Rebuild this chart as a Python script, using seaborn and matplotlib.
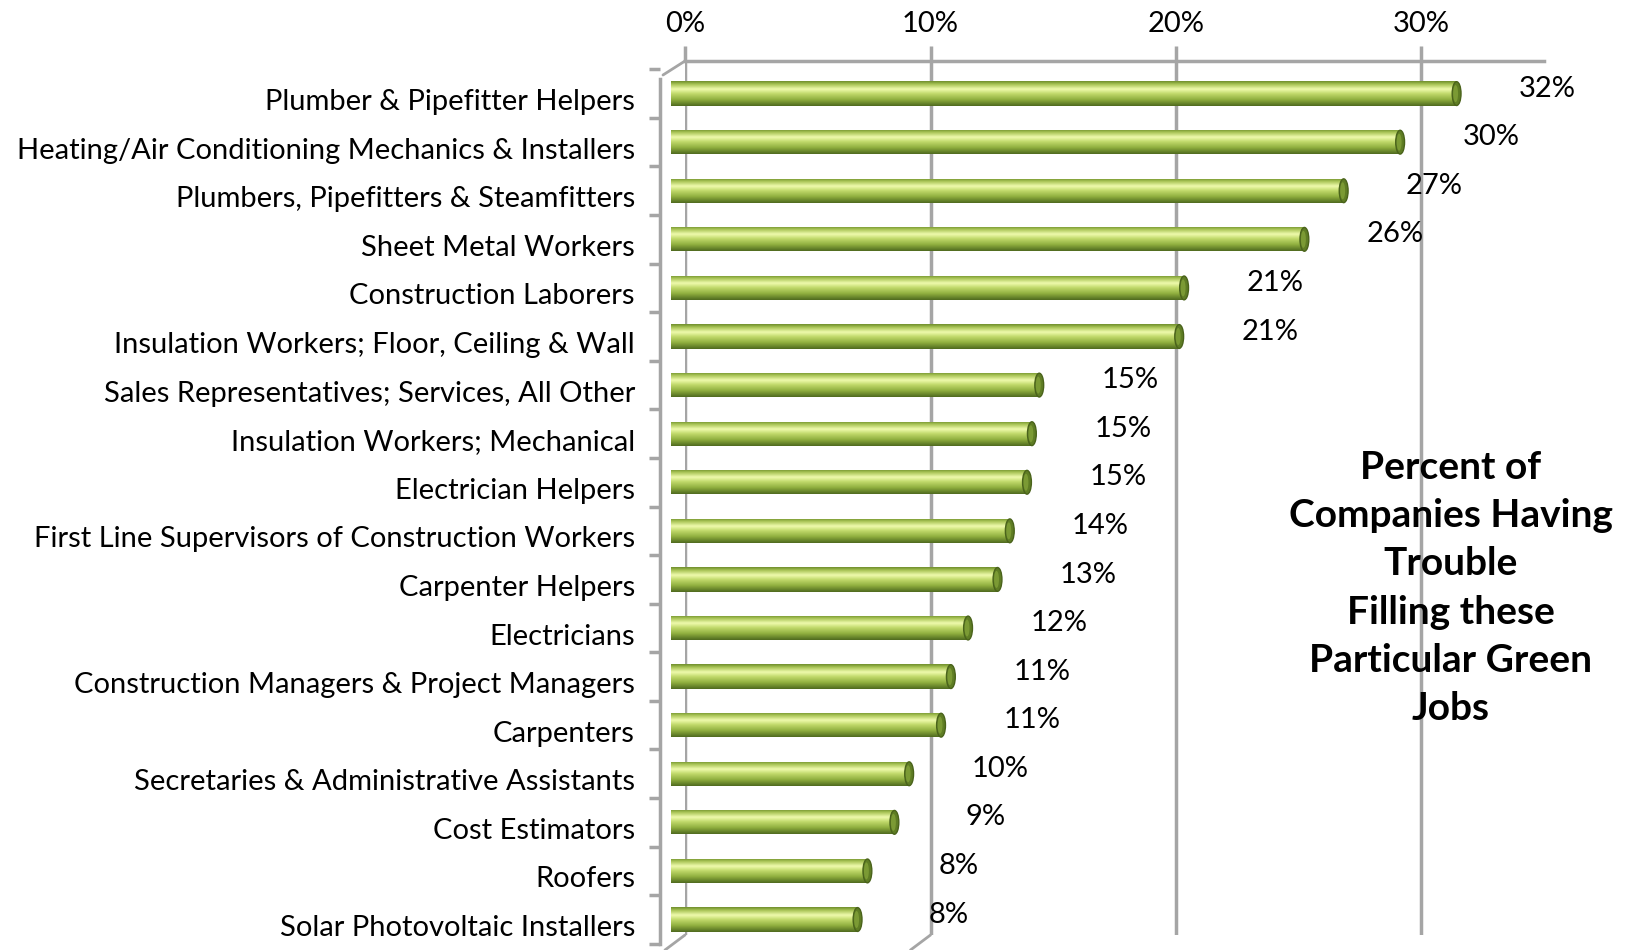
import numpy as np
import pandas as pd
import seaborn as sns
import matplotlib.pyplot as plt
from matplotlib.colors import LinearSegmentedColormap
from matplotlib.patches import Ellipse
from matplotlib.lines import Line2D
from matplotlib.ticker import FuncFormatter, FixedLocator
from matplotlib.transforms import ScaledTranslation

sns.set_theme(style="white")
plt.rcParams['font.family'] = ['Lato', 'DejaVu Sans']
plt.rcParams['text.color'] = 'black'
plt.rcParams['xtick.labelcolor'] = 'black'
plt.rcParams['ytick.labelcolor'] = 'black'

jobs = [
    "Plumber & Pipefitter Helpers",
    "Heating/Air Conditioning Mechanics & Installers",
    "Plumbers, Pipefitters & Steamfitters",
    "Sheet Metal Workers",
    "Construction Laborers",
    "Insulation Workers; Floor, Ceiling & Wall",
    "Sales Representatives; Services, All Other",
    "Insulation Workers; Mechanical",
    "Electrician Helpers",
    "First Line Supervisors of Construction Workers",
    "Carpenter Helpers",
    "Electricians",
    "Construction Managers & Project Managers",
    "Carpenters",
    "Secretaries & Administrative Assistants",
    "Cost Estimators",
    "Roofers",
    "Solar Photovoltaic Installers",
]
pct = [32.0, 29.7, 27.4, 25.8, 20.9, 20.7, 15.0, 14.7, 14.5, 13.8,
       13.3, 12.1, 11.4, 11.0, 9.7, 9.1, 8.0, 7.6]
pct_labels = ["32%", "30%", "27%", "26%", "21%", "21%", "15%", "15%", "15%",
              "14%", "13%", "12%", "11%", "11%", "10%", "9%", "8%", "8%"]
x_ticks = [0, 10, 20, 30]

df = pd.DataFrame({"job": jobs, "pct": pct})

W, H = 1631, 950
fig = plt.figure(figsize=(W / 100, H / 100), dpi=100)

grey = "#a5a5a5"
px_per_pct = 24.55
xmax = 35

# back wall: gridlines + top axis (shifted right/up for the 3d look)
back = fig.add_axes([685 / W, 1 - 935 / H, xmax * px_per_pct / W, (935 - 61) / H])
back.set_xlim(0, xmax)
back.set_ylim(0, 1)
back.patch.set_visible(False)
for s in ["left", "right", "bottom"]:
    back.spines[s].set_visible(False)
back.spines["top"].set_color(grey)
back.spines["top"].set_linewidth(2.5)
back.xaxis.tick_top()
back.xaxis.set_major_locator(FixedLocator(x_ticks))
back.xaxis.set_major_formatter(FuncFormatter(lambda v, p: f"{v:.0f}%"))
back.tick_params(axis="x", length=11, width=2.5, color=grey, labelsize=21, pad=6)
back.set_yticks([])
for t in x_ticks:
    back.axvline(t, color=grey, lw=2.5, zorder=0)

# corner / floor edges of the 3d box
fig.add_artist(Line2D([663 / W, 685 / W], [1 - 75 / H, 1 - 61 / H], color=grey, lw=2))
for t in x_ticks[:2]:
    xb = (685 + t * px_per_pct) / W
    fig.add_artist(Line2D([xb, xb - 20 / W], [1 - 935 / H, 1 - 950 / H], color=grey, lw=2))

# front: bars
top_px, bot_px = 69.3, 943.8
ax = fig.add_axes([671 / W, 1 - bot_px / H, xmax * px_per_pct / W, (bot_px - top_px) / H])
ax.patch.set_visible(False)
sns.barplot(data=df, x="pct", y="job", orient="h", width=0.5, color="#9bbb59", ax=ax)

cmap = LinearSegmentedColormap.from_list(
    "tube", [(0.0, "#6f8d2c"), (0.12, "#a8c455"), (0.32, "#f0fbae"),
             (0.5, "#c2da6c"), (0.75, "#8fae3e"), (1.0, "#4f6a1f")])
grad = np.linspace(0, 1, 64).reshape(-1, 1)
for i, bar in enumerate(ax.patches):
    x0, y0 = bar.get_x(), bar.get_y()
    w, h = bar.get_width(), bar.get_height()
    bar.set_facecolor("none")
    bar.set_edgecolor("none")
    im = ax.imshow(grad, cmap=cmap, aspect="auto", origin="upper",
                   extent=(x0, x0 + w, y0 + h, y0), zorder=2, interpolation="bicubic")
    im.set_clip_path(bar)
    ax.add_patch(Ellipse((x0 + w, y0 + h / 2), 0.36, h * 0.98,
                         facecolor="#5f7d24", edgecolor="#4a631b", lw=1, zorder=3))
    ax.add_patch(Ellipse((x0 + w - 0.04, y0 + h / 2), 0.2, h * 0.7,
                         facecolor="#7b9a34", edgecolor="none", zorder=3))
    ax.text(x0 + w + 3.7, y0 + h / 2 - 0.1, pct_labels[i], ha="center", va="center",
            fontsize=21, color="black")

ax.set_xlim(0, xmax)
ax.set_ylim(len(jobs) - 0.5, -0.5)
ax.set_xlabel("")
ax.set_ylabel("")
ax.set_xticks([])
for s in ["top", "right", "bottom"]:
    ax.spines[s].set_visible(False)
ax.spines["left"].set_position(("outward", 8))
ax.spines["left"].set_bounds(len(jobs) - 0.5, -0.3)
ax.spines["left"].set_color(grey)
ax.spines["left"].set_linewidth(2.5)
ax.set_yticks(np.arange(-0.5, len(jobs)), minor=True)
ax.tick_params(axis="y", which="major", length=0, labelsize=21, pad=18, labelcolor="black")
ax.tick_params(axis="y", which="minor", length=8, width=2.5, color=grey, left=True)
shift = ScaledTranslation(0, -6 / 100, fig.dpi_scale_trans)
for lab in ax.get_yticklabels():
    lab.set_transform(lab.get_transform() + shift)

fig.text(1451 / W, 1 - 588 / H,
         "Percent of\nCompanies Having\nTrouble\nFilling these\nParticular Green\nJobs",
         ha="center", va="center", fontsize=28, fontweight="bold", linespacing=1.46,
         color="black")

fig.savefig("out.png", dpi=100)
